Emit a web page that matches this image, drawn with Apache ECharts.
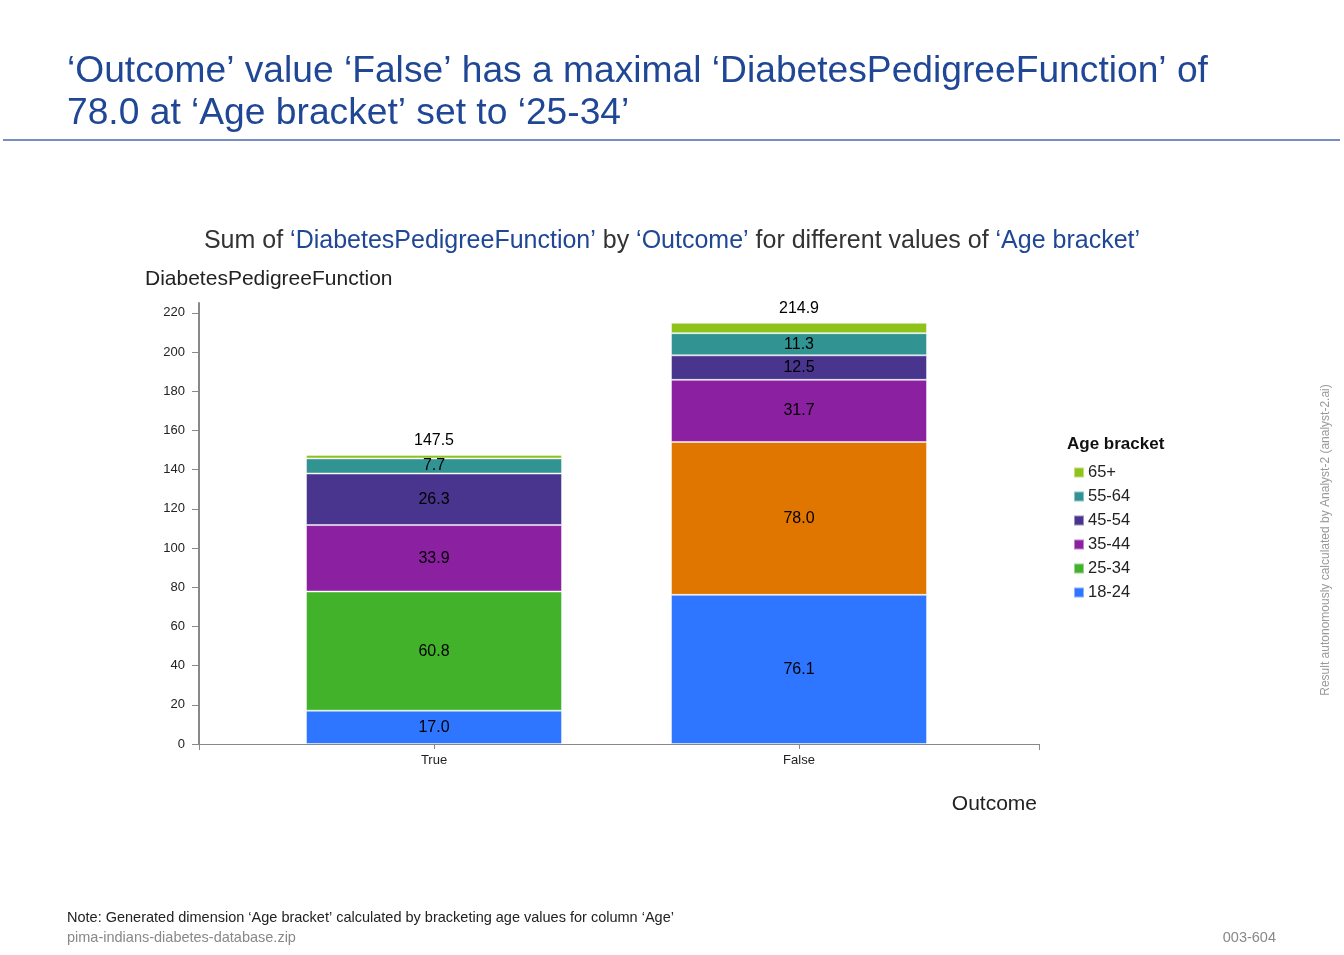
<!DOCTYPE html>
<html>
<head>
<meta charset="utf-8">
<script src="https://cdn.jsdelivr.net/npm/echarts@6/dist/echarts.min.js"></script>
<style>
html,body{margin:0;padding:0;background:#fff;}
#chart{width:1344px;height:955px;}
</style>
</head>
<body>
<div id="chart"></div>
<script>
// ---- data ----
const categories = ['True', 'False'];
const ageBrackets = ['18-24', '25-34', '35-44', '45-54', '55-64', '65+'];
const legendOrder = ['65+', '55-64', '45-54', '35-44', '25-34', '18-24'];
const age18_24 = [17.0, 76.1];
const age25_34 = [60.8, 78.0];
const age35_44 = [33.9, 31.7];
const age45_54 = [26.3, 12.5];
const age55_64 = [7.7, 11.3];
const age65plus = [1.8, 5.3];
const yTicks = [0, 20, 40, 60, 80, 100, 120, 140, 160, 180, 200, 220];
const highlight = { bracket: '25-34', category: 'False' };

const seriesValues = [age18_24, age25_34, age35_44, age45_54, age55_64, age65plus];
const colors = ['#2e75ff', '#42b22b', '#8b20a0', '#49358e', '#319493', '#8fc31a'];
const highlightColor = '#e07600';
const totals = categories.map((c, i) => seriesValues.reduce((s, arr) => s + arr[i], 0));

const FONT = '"Liberation Sans", Arial, Helvetica, sans-serif';
const BLUE = '#1f4796';
const DARK = '#222';

const chart = echarts.init(document.getElementById('chart'), null, { renderer: 'canvas' });

const series = ageBrackets.map((name, si) => {
  const isTop = si === ageBrackets.length - 1;
  return {
    name: name,
    type: 'bar',
    stack: 'total',
    xAxisIndex: 0,
    yAxisIndex: 0,
    barWidth: 256,
    itemStyle: { color: colors[si], borderColor: 'rgba(255,255,255,0.45)', borderWidth: 1 },
    emphasis: { disabled: true },
    data: seriesValues[si].map((v, ci) => {
      const item = { value: v };
      if (name === highlight.bracket && categories[ci] === highlight.category) {
        item.itemStyle = { color: highlightColor };
      }
      return item;
    }),
    label: isTop ? {
      show: true,
      position: 'top',
      distance: 6,
      color: '#000',
      fontFamily: FONT,
      fontSize: 16,
      formatter: p => totals[p.dataIndex].toFixed(1)
    } : {
      show: true,
      position: 'inside',
      color: '#000',
      fontFamily: FONT,
      fontSize: 16,
      formatter: p => p.value.toFixed(1)
    }
  };
});

const option = {
  backgroundColor: '#fff',
  animation: false,
  textStyle: { fontFamily: FONT },
  title: [
    {
      text: '‘Outcome’ value ‘False’ has a maximal ‘DiabetesPedigreeFunction’ of\n78.0 at ‘Age bracket’ set to ‘25-34’',
      left: 67, top: 51, padding: 0,
      textStyle: { color: BLUE, fontSize: 37.2, fontWeight: 'normal', lineHeight: 42, fontFamily: FONT }
    },
    {
      text: '{d|Sum of }{b|‘DiabetesPedigreeFunction’}{d| by }{b|‘Outcome’}{d| for different values of }{b|‘Age bracket’}',
      left: 'center', top: 224,
      textStyle: {
        fontWeight: 'normal',
        rich: {
          d: { color: '#333', fontSize: 25, fontFamily: FONT, fontWeight: 'normal' },
          b: { color: BLUE, fontSize: 25, fontFamily: FONT, fontWeight: 'normal' }
        }
      }
    }
  ],
  legend: {
    orient: 'vertical',
    left: 1068,
    top: 459,
    itemWidth: 10,
    itemHeight: 10,
    itemGap: 7,
    icon: 'rect',
    data: legendOrder,
    selectedMode: false,
    textStyle: { fontSize: 16.5, color: DARK, fontFamily: FONT, lineHeight: 16, padding: [0, 0, 0, -1] }
  },
  grid: [
    { left: 251.5, right: 362.5, top: 303, bottom: 211 },
    { left: 199, right: 305, top: 303, bottom: 211 }
  ],
  xAxis: [
    {
      type: 'category',
      gridIndex: 0,
      data: categories,
      axisLine: { show: false },
      axisTick: { show: true, alignWithLabel: true, length: 5, lineStyle: { color: '#888' } },
      axisLabel: { color: DARK, fontSize: 13, fontFamily: FONT, margin: 10 }
    },
    {
      type: 'value',
      gridIndex: 1,
      min: 0, max: 1,
      axisLine: { show: true, lineStyle: { color: '#888', width: 1 } },
      axisTick: { show: true, customValues: [0, 1], length: 6, lineStyle: { color: '#888' } },
      axisLabel: { show: false },
      splitLine: { show: false }
    }
  ],
  yAxis: [
    {
      type: 'value',
      gridIndex: 0,
      min: 0, max: 225,
      show: false,
      splitLine: { show: false }
    },
    {
      type: 'value',
      gridIndex: 1,
      min: 0, max: 225, interval: 20,
      axisLine: { show: true, lineStyle: { color: '#888', width: 2 } },
      axisTick: { show: true, customValues: yTicks, length: 7, lineStyle: { color: '#888' } },
      axisLabel: { customValues: yTicks, color: DARK, fontSize: 13, fontFamily: FONT, margin: 14 },
      splitLine: { show: false }
    }
  ],
  graphic: [
    { type: 'text', left: 145, top: 269, style: { text: 'DiabetesPedigreeFunction', fontSize: 21, fill: DARK, fontFamily: FONT } },
    { type: 'text', right: 307, top: 794, style: { text: 'Outcome', fontSize: 21, fill: DARK, fontFamily: FONT } },
    { type: 'text', left: 1067, top: 436, style: { text: 'Age bracket', fontSize: 17, fontWeight: 'bold', fill: '#111', fontFamily: FONT } },
    { type: 'line', shape: { x1: 3, y1: 140, x2: 1340, y2: 140 }, style: { stroke: '#4a68ad', lineWidth: 1.5 } },
    { type: 'text', x: 1326, y: 540, rotation: Math.PI / 2, style: { text: 'Result autonomously calculated by Analyst-2 (analyst-2.ai)', fontSize: 12, fill: '#999', fontFamily: FONT, align: 'center', verticalAlign: 'middle' } },
    { type: 'text', left: 67, top: 910, style: { text: 'Note: Generated dimension ‘Age bracket’ calculated by bracketing age values for column ‘Age’', fontSize: 14.5, fill: DARK, fontFamily: FONT } },
    { type: 'text', left: 67, top: 930, style: { text: 'pima-indians-diabetes-database.zip', fontSize: 14.5, fill: '#888', fontFamily: FONT } },
    { type: 'text', right: 68, top: 930, style: { text: '003-604', fontSize: 14.5, fill: '#888', fontFamily: FONT } }
  ],
  series: series
};

chart.setOption(option);
</script>
</body>
</html>
